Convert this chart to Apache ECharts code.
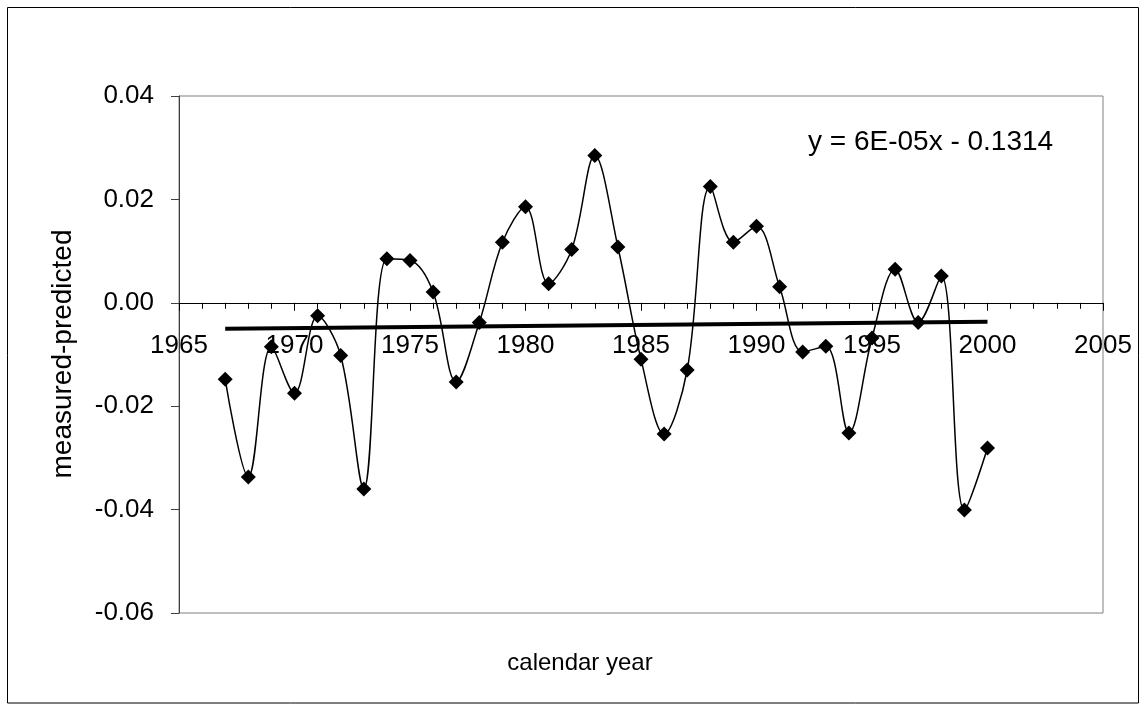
<!DOCTYPE html>
<html>
<head>
<meta charset="utf-8">
<script src="https://cdn.jsdelivr.net/npm/echarts@6/dist/echarts.min.js"></script>
<style>
html,body{margin:0;padding:0;background:#fff;}
#chart{width:1143px;height:704px;}
</style>
</head>
<body>
<div id="chart"></div>
<script>
const years = [1967,1968,1969,1970,1971,1972,1973,1974,1975,1976,1977,1978,1979,1980,1981,1982,1983,1984,1985,1986,1987,1988,1989,1990,1991,1992,1993,1994,1995,1996,1997,1998,1999,2000];
const residuals = [-0.0148,-0.0337,-0.0085,-0.0175,-0.0025,-0.0102,-0.0360,0.0085,0.0082,0.0021,-0.0153,-0.0038,0.0117,0.0186,0.0037,0.0103,0.0285,0.0108,-0.0109,-0.0254,-0.0130,0.0225,0.0117,0.0148,0.0031,-0.0095,-0.0084,-0.0252,-0.0068,0.0065,-0.0038,0.0052,-0.0401,-0.0281];
const xTicks = [1965,1970,1975,1980,1985,1990,1995,2000,2005];
const yTicks = [-0.06,-0.04,-0.02,0.00,0.02,0.04];
const equationText = 'y = 6E-05x - 0.1314';
const xTitle = 'calendar year';
const yTitle = 'measured-predicted';

// linear least-squares trend line (as in the original trendline)
const n = years.length;
let sx=0, sy=0, sxx=0, sxy=0;
for (let i=0;i<n;i++){ sx+=years[i]; sy+=residuals[i]; sxx+=years[i]*years[i]; sxy+=years[i]*residuals[i]; }
const slope = (n*sxy - sx*sy)/(n*sxx - sx*sx);
const intercept = (sy - slope*sx)/n;
const trendData = [years[0], years[n-1]].map(x => [x, intercept + slope*x]);

const gridTop = 96, gridHeight = 517;
const yMin = yTicks[0], yMax = yTicks[yTicks.length-1];
// x axis crosses at y = 0: shift it up from the grid bottom by the zero position
const zeroOffset = -gridHeight * (0 - yMin) / (yMax - yMin);

const FONT = '"Liberation Sans", Arial, sans-serif';
const chart = echarts.init(document.getElementById('chart'));
chart.setOption({
  animation:false,
  backgroundColor:'#fff',
  textStyle:{fontFamily:FONT},
  grid:{left:179, top:gridTop, width:924, height:gridHeight, show:true, borderColor:'#808080', borderWidth:1, backgroundColor:'transparent'},
  xAxis:{
    type:'value', min:xTicks[0], max:xTicks[xTicks.length-1], interval:5,
    offset: zeroOffset,
    axisLine:{show:true, onZero:false, lineStyle:{color:'#000', width:1}},
    axisTick:{show:true, length:8, inside:false, lineStyle:{color:'#000'}},
    minorTick:{show:true, splitNumber:5, length:6, lineStyle:{color:'#000'}},
    splitLine:{show:false},
    axisLabel:{fontSize:26, color:'#000', margin:30, fontFamily:FONT, formatter:v=>String(v)}
  },
  yAxis:{
    type:'value', min:yMin, max:yMax, interval:0.02,
    axisLine:{show:true, onZero:false, lineStyle:{color:'#404040', width:1}},
    axisTick:{show:true, length:8, lineStyle:{color:'#404040'}},
    splitLine:{show:false},
    axisLabel:{fontSize:26, color:'#000', margin:25, fontFamily:FONT, formatter:v=>v.toFixed(2)}
  },
  graphic:[
    {type:'rect', shape:{x:7.5,y:7.5,width:1131,height:695.5}, style:{fill:'none', stroke:'#000', lineWidth:1}, silent:true, z:-1},
    {type:'text', x:580, y:663, style:{text:xTitle, font:'24px '+FONT, fill:'#000', textAlign:'center', textVerticalAlign:'middle'}},
    {type:'text', x:63, y:354, rotation:Math.PI/2, style:{text:yTitle, font:'28px '+FONT, fill:'#000', textAlign:'center', textVerticalAlign:'middle'}},
    {type:'text', x:808, y:142, style:{text:equationText, font:'28px '+FONT, fill:'#000', textAlign:'left', textVerticalAlign:'middle'}}
  ],
  series:[
    {type:'line', data:years.map((y,i)=>[y,residuals[i]]), smooth:0.35,
     symbol:'diamond', symbolSize:15, showAllSymbol:true,
     lineStyle:{color:'#000', width:1.5}, itemStyle:{color:'#000'}, z:3},
    {type:'line', data:trendData, symbol:'none', smooth:false,
     lineStyle:{color:'#000', width:4}, z:2}
  ]
});
</script>
</body>
</html>
